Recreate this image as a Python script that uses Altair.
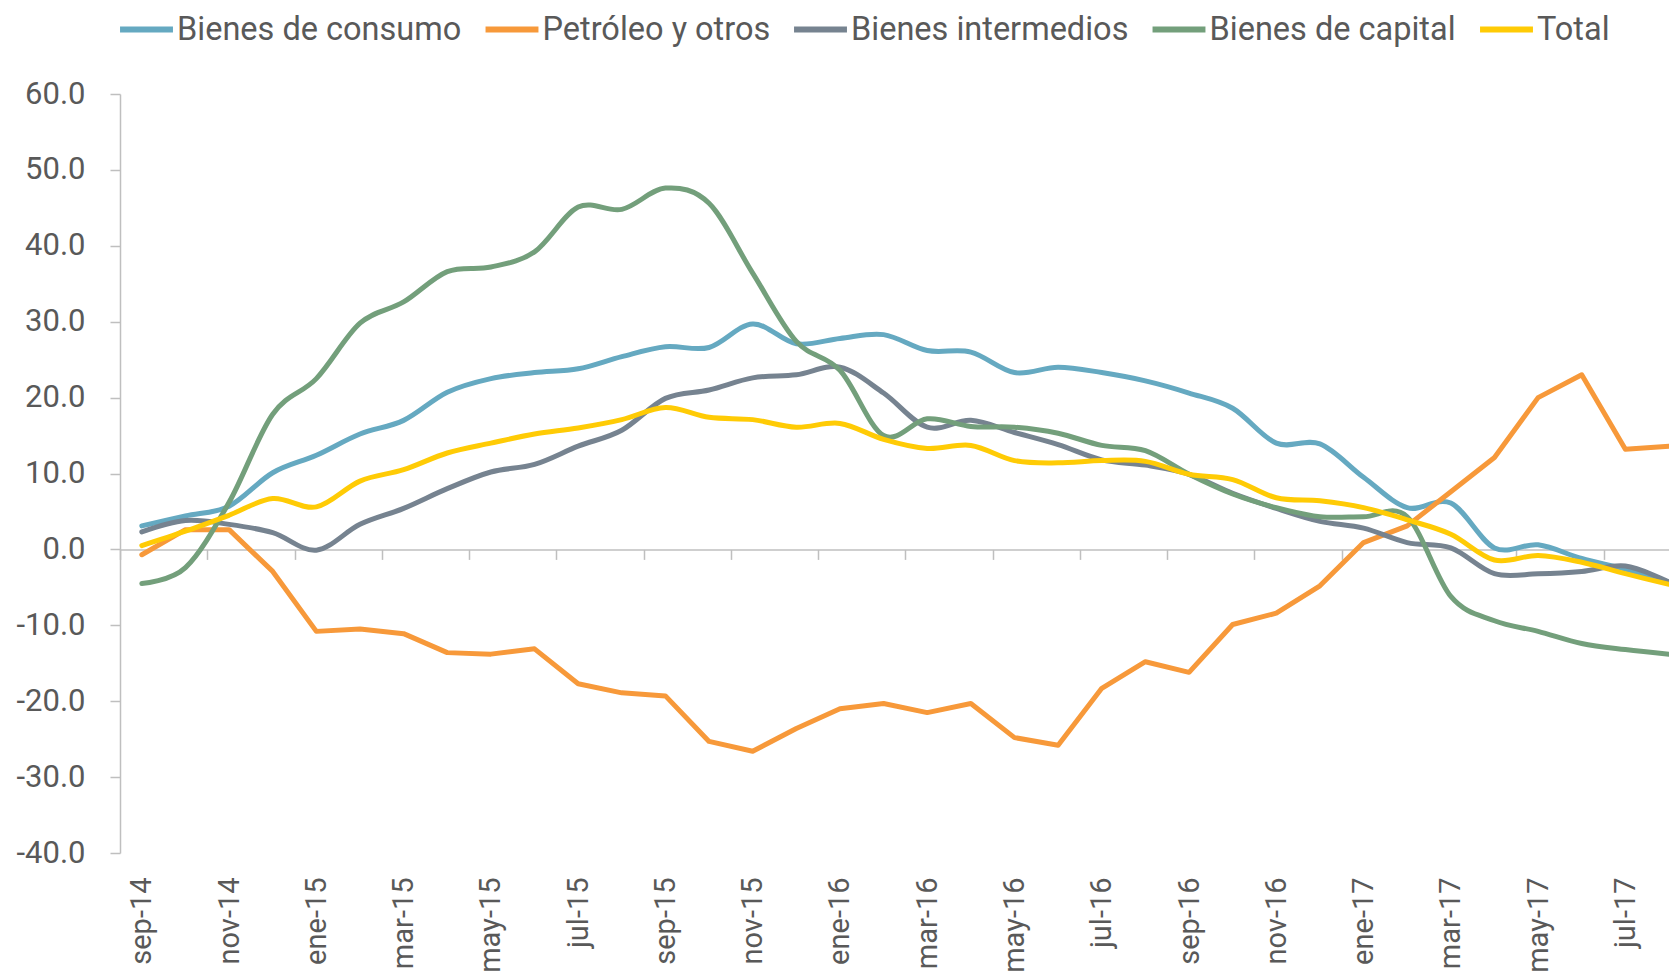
import altair as alt
import pandas as pd

meses = ["sep-14", "oct-14", "nov-14", "dic-14", "ene-15", "feb-15", "mar-15", "abr-15",
         "may-15", "jun-15", "jul-15", "ago-15", "sep-15", "oct-15", "nov-15", "dic-15",
         "ene-16", "feb-16", "mar-16", "abr-16", "may-16", "jun-16", "jul-16", "ago-16",
         "sep-16", "oct-16", "nov-16", "dic-16", "ene-17", "feb-17", "mar-17", "abr-17",
         "may-17", "jun-17", "jul-17", "ago-17"]

series = ["Bienes de consumo", "Petróleo y otros", "Bienes intermedios", "Bienes de capital", "Total"]

consumo = [3.1, 4.4, 5.7, 10.1, 12.4, 15.2, 17.0, 20.7, 22.5, 23.3, 23.8, 25.4,
           26.7, 26.6, 29.7, 27.1, 27.8, 28.3, 26.2, 26.0, 23.3, 24.0, 23.3, 22.2,
           20.6, 18.6, 14.0, 13.9, 9.5, 5.5, 6.1, 0.2, 0.6, -1.2, -2.6, -4.3]
petroleo = [-0.7, 2.6, 2.6, -2.9, -10.8, -10.5, -11.1, -13.6, -13.8, -13.1, -17.7, -18.9,
            -19.3, -25.3, -26.6, -23.6, -21.0, -20.3, -21.5, -20.3, -24.8, -25.8, -18.3, -14.8,
            -16.2, -9.9, -8.4, -4.8, 0.9, 3.1, 7.6, 12.1, 20.0, 23.0, 13.2, 13.6]
intermedios = [2.3, 3.8, 3.3, 2.2, -0.1, 3.3, 5.4, 8.0, 10.2, 11.2, 13.6, 15.7,
               19.9, 21.0, 22.6, 23.0, 24.0, 20.6, 16.1, 17.0, 15.4, 13.8, 11.8, 11.1,
               9.9, 7.4, 5.4, 3.7, 2.8, 0.9, 0.2, -3.2, -3.2, -2.9, -2.2, -4.3]
capital = [-4.5, -2.4, 6.2, 17.8, 22.5, 29.8, 32.6, 36.6, 37.2, 39.2, 45.1, 44.8,
           47.6, 45.6, 36.4, 27.4, 23.6, 15.0, 17.2, 16.2, 16.1, 15.3, 13.7, 13.0,
           9.9, 7.3, 5.5, 4.3, 4.3, 4.3, -6.2, -9.4, -10.8, -12.4, -13.2, -13.8]
total = [0.5, 2.4, 4.5, 6.7, 5.6, 9.0, 10.5, 12.7, 14.0, 15.2, 16.0, 17.1,
         18.7, 17.4, 17.1, 16.1, 16.6, 14.5, 13.3, 13.7, 11.7, 11.4, 11.7, 11.6,
         9.9, 9.2, 6.8, 6.4, 5.5, 3.9, 2.0, -1.4, -0.8, -1.7, -3.2, -4.6]

colores = ["#65A9C1", "#F7993A", "#768390", "#739F7B", "#FFCB05"]
y_ticks = [-40, -30, -20, -10, 0, 10, 20, 30, 40, 50, 60]

rows = []
for name, vals in zip(series, [consumo, petroleo, intermedios, capital, total]):
    for i, (m, v) in enumerate(zip(meses, vals)):
        rows.append({"serie": name, "idx": i, "mes": m, "valor": v})
df = pd.DataFrame(rows)

FONT = "Roboto"
TXT = "#595959"
AXC = "#BFBFBF"

label_expr = "[" + ",".join("'" + m + "'" for m in meses) + "][datum.value]"
x_scale = alt.Scale(domain=[-0.5, 35], nice=False, zero=False)
y_scale = alt.Scale(domain=[-40, 60], nice=False, zero=False)

x_labels_axis = alt.Axis(orient="bottom", values=list(range(0, 36, 2)), labelExpr=label_expr,
                         labelAngle=270, labelAlign="right", labelBaseline="middle",
                         labelFontSize=29, labelFont=FONT, labelColor=TXT, labelPadding=24,
                         ticks=False, domain=False, grid=False, title=None)
x_zero_axis = alt.Axis(orient="bottom", values=[k - 0.5 for k in range(0, 35, 2)], labels=False,
                       tickSize=10, tickColor=AXC, tickWidth=1.5, domainColor=AXC,
                       domainWidth=1.5, grid=False, offset=-303.6, title=None)

y_enc = alt.Y("valor:Q", scale=y_scale,
              axis=alt.Axis(values=y_ticks,
                            labelExpr="replace(format(datum.value, '.1f'), '\u2212', '-')",
                            tickSize=10, tickColor=AXC, tickWidth=1.5, domainColor=AXC,
                            domainWidth=1.5, labelPadding=25, labelFontSize=31,
                            labelFont=FONT, labelColor=TXT, grid=False, title=None))

color_enc = alt.Color("serie:N", scale=alt.Scale(domain=series, range=colores),
                      legend=alt.Legend(orient="none", legendX=-3, legendY=-94,
                                        direction="horizontal", symbolType="stroke",
                                        symbolSize=2800, symbolStrokeWidth=6,
                                        labelFontSize=32.5, labelFont=FONT, labelColor=TXT,
                                        labelLimit=500, labelOffset=1, columnPadding=11.5,
                                        title=None))

layers = []
for k, name in enumerate(series):
    if k == 0:
        xa = x_labels_axis
    elif k == 1:
        xa = x_zero_axis
    else:
        xa = None
    x_enc = alt.X("idx:Q", scale=x_scale, axis=xa)
    interp = "linear" if name == "Petróleo y otros" else "cardinal"
    layers.append(
        alt.Chart(df)
        .transform_filter(alt.datum.serie == name)
        .mark_line(interpolate=interp, strokeWidth=5, strokeCap="round", strokeJoin="round")
        .encode(x=x_enc, y=y_enc, color=color_enc, order=alt.Order("idx:Q"))
    )

chart = (
    alt.layer(*layers)
    .resolve_axis(x="independent")
    .properties(width=1549, height=759,
                padding={"left": 112, "top": 86, "right": 0, "bottom": 120},
                autosize=alt.AutoSizeParams(type="none"))
    .configure_view(strokeWidth=0)
)

chart.save("out.html", embed_options={"renderer": "svg", "actions": False})
